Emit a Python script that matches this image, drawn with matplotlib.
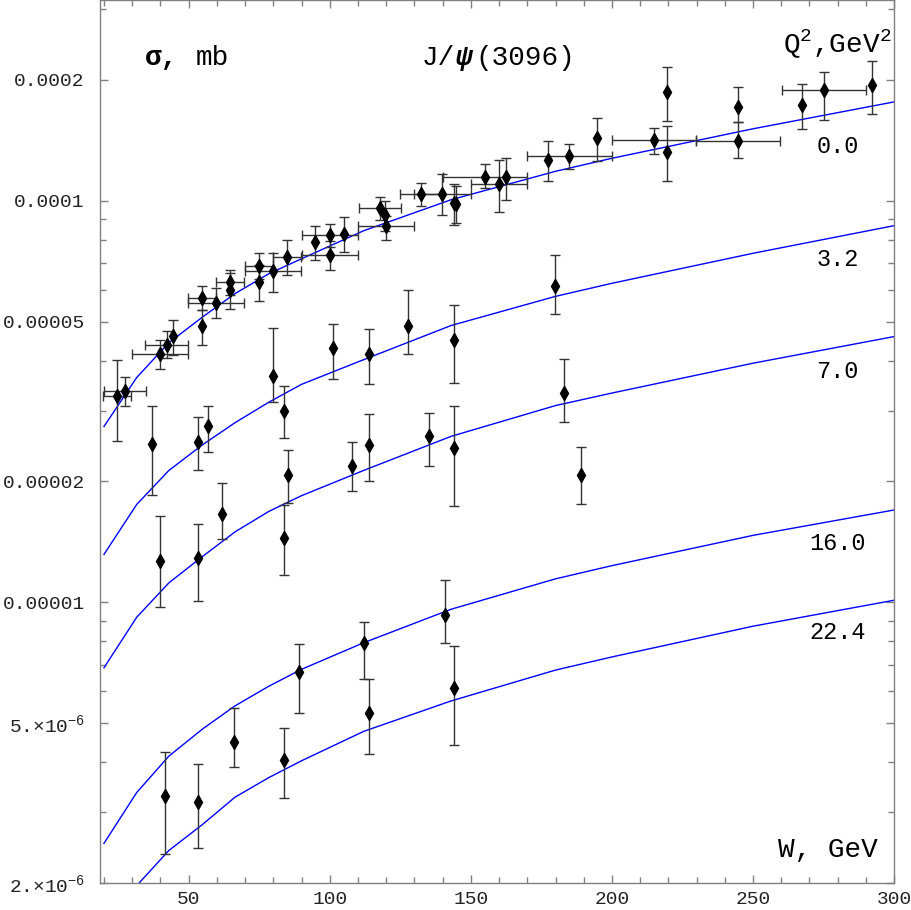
import numpy as np
import matplotlib
matplotlib.use("Agg")
import matplotlib.pyplot as plt
from matplotlib.ticker import FixedLocator, FixedFormatter, NullFormatter

plt.rcParams['font.family'] = ['Liberation Mono', 'DejaVu Sans Mono']
plt.rcParams['mathtext.fontset'] = 'custom'
plt.rcParams['mathtext.rm'] = 'Liberation Mono'
plt.rcParams['mathtext.it'] = 'Liberation Mono:italic'
plt.rcParams['mathtext.bf'] = 'Liberation Mono:bold'

# Model curves (W in GeV, sigma in mb)
w_curve = [20, 31.6, 43, 55, 66.4, 78.4, 90, 112, 143, 180, 200, 250, 300]
curve_q0 = [2.74e-5, 3.63e-5, 4.43e-5, 5.14e-5, 5.87e-5, 6.58e-5, 7.17e-5,
            8.42e-5, 1.006e-4, 1.184e-4, 1.276e-4, 1.511e-4, 1.763e-4]
curve_q32 = [1.316e-5, 1.753e-5, 2.13e-5, 2.47e-5, 2.80e-5, 3.15e-5, 3.49e-5,
             4.02e-5, 4.89e-5, 5.78e-5, 6.23e-5, 7.40e-5, 8.67e-5]
curve_q70 = [6.87e-6, 9.18e-6, 1.118e-5, 1.302e-5, 1.497e-5, 1.684e-5, 1.843e-5,
             2.13e-5, 2.59e-5, 3.09e-5, 3.32e-5, 3.94e-5, 4.59e-5]
curve_q160 = [2.51e-6, 3.36e-6, 4.14e-6, 4.84e-6, 5.52e-6, 6.18e-6, 6.81e-6,
              7.93e-6, 9.61e-6, 1.144e-5, 1.234e-5, 1.468e-5, 1.698e-5]
curve_q224 = [1.48e-6, 1.97e-6, 2.41e-6, 2.80e-6, 3.27e-6, 3.66e-6, 4.03e-6,
              4.77e-6, 5.68e-6, 6.78e-6, 7.31e-6, 8.72e-6, 1.012e-5]
curve_labels = ['0.0', '3.2', '7.0', '16.0', '22.4']
label_heights = [0.834, 0.706, 0.579, 0.384, 0.2835]

# Photoproduction data, Q^2 = 0 (some points with W bins)
w_q0 = [24.6, 27.4, 39.8, 42.2, 44.5, 54.8, 54.8, 59.7, 64.7, 64.7,
        74.8, 74.8, 79.9, 84.9, 94.9, 100, 100, 105, 117.7, 119.6,
        120, 132.3, 139.9, 144.0, 144.8, 155, 159.9, 162.3, 177.2, 184.9,
        194.6, 214.9, 219.6, 219.6, 244.7, 244.7, 267.2, 275.1, 292.2]
sig_q0 = [3.26e-5, 3.36e-5, 4.16e-5, 4.38e-5, 4.60e-5, 4.87e-5, 5.73e-5, 5.57e-5, 6.00e-5, 6.26e-5,
          6.28e-5, 6.89e-5, 6.67e-5, 7.23e-5, 7.88e-5, 8.20e-5, 7.34e-5, 8.28e-5, 9.59e-5, 9.19e-5,
          8.67e-5, 1.041e-4, 1.041e-4, 9.9e-5, 9.8e-5, 1.149e-4, 1.100e-4, 1.143e-4, 1.26e-4, 1.292e-4,
          1.432e-4, 1.418e-4, 1.87e-4, 1.326e-4, 1.711e-4, 1.405e-4, 1.73e-4, 1.888e-4, 1.944e-4]
lo_q0 = [2.52e-5, 3.08e-5, 3.82e-5, 4.05e-5, 4.14e-5, 4.37e-5, 5.34e-5, 5.11e-5, 5.38e-5, 5.84e-5,
         5.64e-5, 6.4e-5, 5.93e-5, 6.54e-5, 7.10e-5, 7.69e-5, 6.71e-5, 7.44e-5, 8.97e-5, 8.4e-5,
         7.97e-5, 9.72e-5, 9.19e-5, 8.71e-5, 8.8e-5, 1.075e-4, 9.40e-5, 1.006e-4, 1.117e-4, 1.199e-4,
         1.253e-4, 1.309e-4, 1.584e-4, 1.123e-4, 1.569e-4, 1.277e-4, 1.510e-4, 1.590e-4, 1.643e-4]
hi_q0 = [4.01e-5, 3.64e-5, 4.50e-5, 4.73e-5, 5.06e-5, 5.34e-5, 6.12e-5, 6.06e-5, 6.61e-5, 6.74e-5,
         6.93e-5, 7.41e-5, 7.41e-5, 8.00e-5, 8.63e-5, 8.75e-5, 7.95e-5, 9.09e-5, 1.019e-4, 1.00e-4,
         9.14e-5, 1.110e-4, 1.167e-4, 1.102e-4, 1.09e-4, 1.234e-4, 1.265e-4, 1.277e-4, 1.405e-4, 1.383e-4,
         1.611e-4, 1.521e-4, 2.157e-4, 1.537e-4, 1.925e-4, 1.569e-4, 1.952e-4, 2.089e-4, 2.233e-4]
dw_q0 = [5, 7.5, 10, 7.5, 0, 0, 5, 10, 0, 5,
         0, 5, 10, 5, 0, 10, 10, 0, 7.5, 0,
         10, 7.5, 10, 0, 0, 15, 10, 0, 0, 15,
         0, 15, 0, 0, 0, 15, 0, 15, 0]

# Electroproduction data
w_q32 = [36.9, 53.2, 57.0, 79.9, 83.9, 101.0, 113.9, 127.8, 144.0, 179.8]
sig_q32 = [2.48e-5, 2.51e-5, 2.75e-5, 3.67e-5, 3.00e-5, 4.30e-5, 4.16e-5, 4.89e-5, 4.51e-5, 6.12e-5]
lo_q32 = [1.85e-5, 2.13e-5, 2.37e-5, 3.16e-5, 2.56e-5, 3.59e-5, 3.50e-5, 4.16e-5, 3.52e-5, 5.21e-5]
hi_q32 = [3.08e-5, 2.89e-5, 3.09e-5, 4.82e-5, 3.45e-5, 4.92e-5, 4.80e-5, 6.00e-5, 5.51e-5, 7.34e-5]

w_q70 = [39.8, 53.2, 61.9, 83.9, 85.1, 108.0, 113.9, 135.0, 144.0, 183.0, 189.0]
sig_q70 = [1.27e-5, 1.29e-5, 1.66e-5, 1.45e-5, 2.07e-5, 2.19e-5, 2.47e-5, 2.59e-5, 2.42e-5, 3.32e-5, 2.08e-5]
lo_q70 = [9.76e-6, 1.01e-5, 1.44e-5, 1.17e-5, 1.77e-5, 1.89e-5, 2.00e-5, 2.18e-5, 1.74e-5, 2.81e-5, 1.76e-5]
hi_q70 = [1.64e-5, 1.57e-5, 1.98e-5, 1.75e-5, 2.39e-5, 2.51e-5, 2.95e-5, 2.96e-5, 3.08e-5, 4.04e-5, 2.43e-5]

w_q160 = [41.8, 65.9, 89.0, 112.0, 140.8]
sig_q160 = [3.30e-6, 4.50e-6, 6.71e-6, 7.91e-6, 9.30e-6]
lo_q160 = [2.36e-6, 3.88e-6, 5.29e-6, 6.44e-6, 7.94e-6]
hi_q160 = [4.23e-6, 5.44e-6, 7.86e-6, 8.95e-6, 1.136e-5]

w_q224 = [53.2, 83.9, 113.9, 144.0]
sig_q224 = [3.19e-6, 4.05e-6, 5.29e-6, 6.11e-6]
lo_q224 = [2.44e-6, 3.25e-6, 4.19e-6, 4.41e-6]
hi_q224 = [3.95e-6, 4.85e-6, 6.44e-6, 7.78e-6]

# Axis ticks
x_major = [50, 100, 150, 200, 250, 300]
y_major = [2e-6, 5e-6, 1e-5, 2e-5, 5e-5, 1e-4, 2e-4]
y_labels = ['2.×10$^{-6}$', '5.×10$^{-6}$', '0.00001', '0.00002', '0.00005', '0.0001', '0.0002']
y_minor = [3e-6, 4e-6, 6e-6, 7e-6, 8e-6, 9e-6, 3e-5, 4e-5, 6e-5, 7e-5, 8e-5, 9e-5, 3e-4]

fig = plt.figure(figsize=(9.11, 9.10), dpi=100)
ax = fig.add_axes([0.1098, 0.0297, 0.8717, 0.9703])
ax.set_yscale('log')

# Curves
for c in [curve_q0, curve_q32, curve_q70, curve_q160, curve_q224]:
    ax.plot(w_curve, c, color='#0000ff', lw=1.0, zorder=2)

# Data points with error bars
sets = [(w_q0, sig_q0, lo_q0, hi_q0), (w_q32, sig_q32, lo_q32, hi_q32),
        (w_q70, sig_q70, lo_q70, hi_q70), (w_q160, sig_q160, lo_q160, hi_q160),
        (w_q224, sig_q224, lo_q224, hi_q224)]
for w, s, lo, hi in sets:
    s = np.array(s)
    yerr = [s - np.array(lo), np.array(hi) - s]
    ax.errorbar(w, s, yerr=yerr, fmt='d', color='black', ecolor='#333333',
                elinewidth=1.0, capsize=3.5, capthick=1.0, markersize=7.5, zorder=3)

# Horizontal bins only where present
w0 = np.array(w_q0)
dw = np.array(dw_q0)
m = dw > 0
ax.errorbar(w0[m], np.array(sig_q0)[m], xerr=dw[m], fmt='none', ecolor='#333333',
            elinewidth=1.0, capsize=3.5, capthick=1.0, zorder=3)

ax.set_xlim(18.6, 300)
ax.set_ylim(2e-6, 10 ** -3.5)

ax.xaxis.set_major_locator(FixedLocator(x_major))
ax.xaxis.set_minor_locator(FixedLocator(list(range(20, 300, 10))))
ax.yaxis.set_major_locator(FixedLocator(y_major))
ax.yaxis.set_major_formatter(FixedFormatter(y_labels))
ax.yaxis.set_minor_locator(FixedLocator(y_minor))
ax.yaxis.set_minor_formatter(NullFormatter())

ax.tick_params(which='both', direction='in', top=True, right=True, color='#808080', width=1)
ax.tick_params(which='major', length=6)
ax.tick_params(which='minor', length=4)
ax.tick_params(axis='x', labelsize=14, pad=6, labelcolor='#222222')
ax.tick_params(axis='y', labelsize=14, pad=11, labelcolor='#222222')
for sp in ax.spines.values():
    sp.set_color('#808080')
    sp.set_linewidth(1)

# Annotations
ax.text(0.0567, 0.934, 'σ,', transform=ax.transAxes, fontsize=20, fontweight='bold', va='center')
ax.text(0.1205, 0.934, 'mb', transform=ax.transAxes, fontsize=20, va='center')
ax.text(0.405, 0.934, 'J/', transform=ax.transAxes, fontsize=20, va='center')
ax.text(0.448, 0.934, 'ψ', transform=ax.transAxes, fontsize=20, fontweight='bold',
        fontstyle='italic', va='center')
ax.text(0.473, 0.934, '(3096)', transform=ax.transAxes, fontsize=20, va='center')
ax.text(0.997, 0.951, 'Q$^2$,GeV$^2$', transform=ax.transAxes, fontsize=20, ha='right', va='center')
for lab, h in zip(curve_labels, label_heights):
    ax.text(0.929, h, lab, transform=ax.transAxes, fontsize=17, ha='center', va='center')
ax.text(0.979, 0.0374, 'W, GeV', transform=ax.transAxes, fontsize=20, ha='right', va='center')

fig.savefig('out.png', dpi=100)
